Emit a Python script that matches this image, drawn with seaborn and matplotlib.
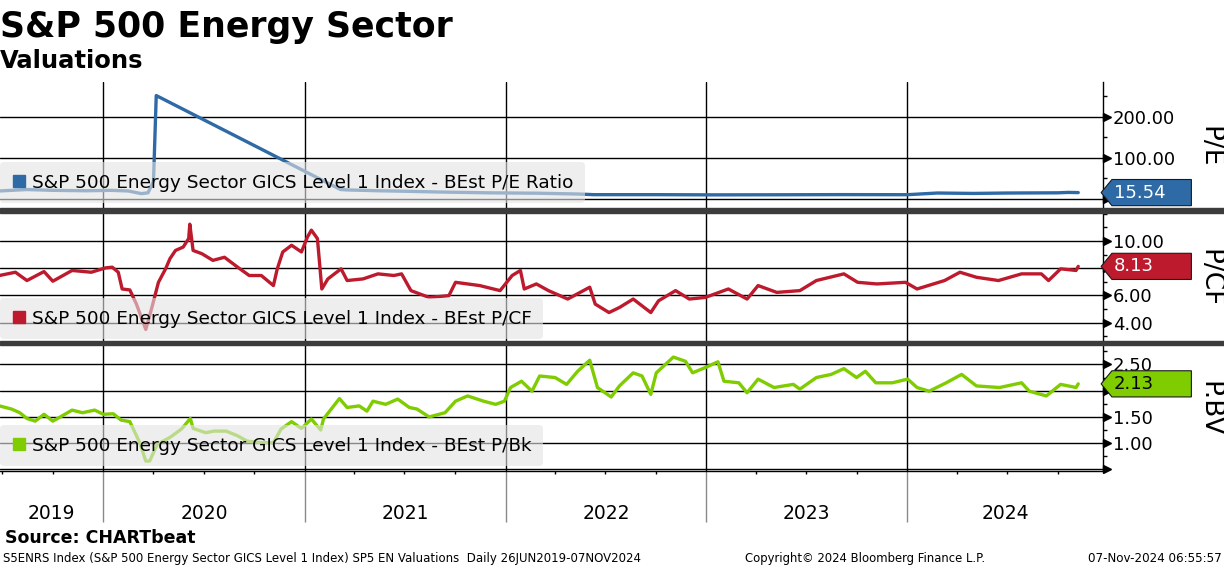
import matplotlib
matplotlib.use('Agg')
import matplotlib.pyplot as plt
import matplotlib.dates as mdates
import matplotlib.transforms as mtransforms
from matplotlib.lines import Line2D
from matplotlib.markers import MarkerStyle
from matplotlib.patches import Rectangle
from matplotlib.path import Path
from matplotlib.ticker import FixedLocator, MultipleLocator, FixedFormatter
import pandas as pd
import seaborn as sns

sns.set_theme(style='white')
plt.rcParams['font.family'] = ['DejaVu Sans']
plt.rcParams['text.color'] = 'black'

# ---- data ----
pe_dates = ['2019-06-26', '2019-08-15', '2019-10-01', '2019-12-01', '2020-01-15', '2020-02-15',
            '2020-03-10', '2020-03-22', '2020-04-01', '2020-04-06', '2021-03-07', '2021-03-20',
            '2021-05-15', '2021-06-25', '2021-09-01', '2021-12-01', '2022-03-01', '2022-05-15',
            '2022-06-10', '2022-10-01', '2023-01-15', '2023-05-01', '2023-09-01', '2024-01-01',
            '2024-02-25', '2024-05-01', '2024-07-01', '2024-10-01', '2024-10-20', '2024-11-07']
pe_values = [19.5, 23.0, 21.0, 20.0, 21.0, 19.5,
             13.0, 15.0, 43.0, 252.0, 23.0, 22.0,
             20.0, 19.0, 17.0, 15.0, 14.0, 12.0,
             10.5, 10.5, 10.0, 10.2, 10.6, 10.4,
             14.5, 13.5, 14.5, 15.0, 16.0, 15.54]

pcf_dates = ['2019-06-26', '2019-07-25', '2019-08-15', '2019-09-15', '2019-10-01', '2019-11-05',
             '2019-12-10', '2020-01-05', '2020-01-17', '2020-01-28', '2020-02-04', '2020-02-18',
             '2020-03-01', '2020-03-18', '2020-03-29', '2020-04-10', '2020-04-23', '2020-05-01',
             '2020-05-11', '2020-05-25', '2020-06-04', '2020-06-06', '2020-06-12', '2020-06-28',
             '2020-07-18', '2020-08-08', '2020-09-01', '2020-09-22', '2020-10-14', '2020-11-05',
             '2020-11-12', '2020-11-22', '2020-12-08', '2020-12-26', '2021-01-06', '2021-01-13',
             '2021-01-24', '2021-02-01', '2021-02-12', '2021-03-08', '2021-03-19', '2021-04-17',
             '2021-05-14', '2021-06-12', '2021-06-26', '2021-07-13', '2021-08-15', '2021-09-20',
             '2021-10-02', '2021-11-15', '2021-12-22', '2022-01-13', '2022-01-28', '2022-02-04',
             '2022-02-26', '2022-03-20', '2022-04-24', '2022-06-03', '2022-06-13', '2022-07-08',
             '2022-07-27', '2022-08-21', '2022-09-22', '2022-10-06', '2022-11-06', '2022-12-01',
             '2022-12-30', '2023-02-10', '2023-03-16', '2023-04-05', '2023-05-09', '2023-06-20',
             '2023-07-20', '2023-09-08', '2023-10-03', '2023-11-07', '2023-12-29', '2024-01-19',
             '2024-03-09', '2024-04-06', '2024-05-06', '2024-06-15', '2024-07-27', '2024-09-01',
             '2024-09-14', '2024-10-06', '2024-11-03', '2024-11-07']
pcf_values = [7.46, 7.70, 7.09, 7.75, 7.04, 7.83,
              7.70, 8.02, 8.07, 7.70, 6.47, 6.40,
              5.36, 3.50, 5.10, 6.96, 7.95, 8.70,
              9.30, 9.55, 10.17, 11.23, 9.30, 9.06,
              8.57, 8.80, 8.07, 7.46, 7.46, 6.72,
              7.95, 9.19, 9.68, 9.19, 10.30, 10.79,
              10.17, 6.47, 7.21, 7.95, 7.09, 7.21,
              7.58, 7.46, 7.58, 6.35, 5.85, 5.98,
              6.96, 6.72, 6.35, 7.46, 7.83, 6.47,
              6.84, 6.35, 5.73, 6.60, 5.36, 4.74,
              5.11, 5.73, 4.74, 5.60, 6.35, 5.73,
              5.85, 6.47, 5.73, 6.72, 6.22, 6.35,
              7.09, 7.58, 6.96, 6.84, 6.96, 6.47,
              7.09, 7.70, 7.33, 7.09, 7.58, 7.58,
              7.09, 7.95, 7.83, 8.13]

pbv_dates = ['2019-06-26', '2019-07-18', '2019-08-02', '2019-08-15', '2019-08-30', '2019-09-15',
             '2019-10-01', '2019-10-18', '2019-11-05', '2019-11-24', '2019-12-16', '2020-01-01',
             '2020-01-19', '2020-02-02', '2020-02-18', '2020-03-07', '2020-03-18', '2020-03-25',
             '2020-04-08', '2020-05-01', '2020-05-22', '2020-06-07', '2020-06-12', '2020-07-05',
             '2020-07-20', '2020-08-11', '2020-09-01', '2020-09-18', '2020-10-14', '2020-11-05',
             '2020-11-19', '2020-12-08', '2020-12-26', '2021-01-13', '2021-01-30', '2021-02-04',
             '2021-03-05', '2021-03-19', '2021-04-10', '2021-04-24', '2021-05-05', '2021-05-28',
             '2021-06-19', '2021-07-10', '2021-07-24', '2021-08-15', '2021-09-13', '2021-10-02',
             '2021-10-24', '2021-11-22', '2021-12-14', '2021-12-30', '2022-01-10', '2022-01-30',
             '2022-02-18', '2022-03-04', '2022-04-01', '2022-04-22', '2022-05-12', '2022-06-03',
             '2022-06-17', '2022-07-12', '2022-07-27', '2022-08-21', '2022-09-06', '2022-09-22',
             '2022-10-02', '2022-11-02', '2022-11-24', '2022-12-07', '2022-12-30', '2023-01-22',
             '2023-02-02', '2023-03-01', '2023-03-16', '2023-04-05', '2023-05-04', '2023-06-08',
             '2023-06-20', '2023-07-20', '2023-08-16', '2023-09-08', '2023-10-01', '2023-10-17',
             '2023-11-05', '2023-12-05', '2024-01-02', '2024-01-19', '2024-02-10', '2024-03-12',
             '2024-04-09', '2024-05-06', '2024-06-17', '2024-07-27', '2024-08-10', '2024-09-10',
             '2024-10-06', '2024-11-03', '2024-11-07']
pbv_values = [1.71, 1.65, 1.58, 1.47, 1.42, 1.55,
              1.42, 1.52, 1.63, 1.58, 1.63, 1.55,
              1.56, 1.44, 1.41, 1.01, 0.66, 0.66,
              0.98, 1.11, 1.27, 1.47, 1.28, 1.20,
              1.23, 1.23, 1.14, 1.04, 1.01, 1.01,
              1.27, 1.41, 1.28, 1.46, 1.25, 1.46,
              1.85, 1.68, 1.71, 1.61, 1.80, 1.74,
              1.84, 1.68, 1.65, 1.50, 1.58, 1.80,
              1.90, 1.80, 1.74, 1.80, 2.06, 2.18,
              1.99, 2.28, 2.25, 2.12, 2.37, 2.58,
              2.06, 1.88, 2.09, 2.34, 2.28, 1.93,
              2.34, 2.64, 2.56, 2.34, 2.44, 2.55,
              2.18, 2.15, 1.96, 2.22, 2.06, 2.12,
              2.03, 2.25, 2.31, 2.42, 2.25, 2.37,
              2.15, 2.15, 2.22, 2.06, 1.99, 2.15,
              2.31, 2.09, 2.06, 2.15, 1.99, 1.90,
              2.12, 2.06, 2.13]

# tick labels hidden behind the last-value tags are left blank
pe_ticks = [0, 100, 200]
pe_tick_labels = ['', '100.00', '200.00']
pcf_ticks = [4, 6, 8, 10]
pcf_tick_labels = ['4.00', '6.00', '', '10.00']
pbv_ticks = [0.5, 1.0, 1.5, 2.0, 2.5]
pbv_tick_labels = ['', '1.00', '1.50', '', '2.50']
year_labels = ['2019', '2020', '2021', '2022', '2023', '2024']

legend_prefix = 'S&P 500 Energy Sector GICS Level 1 Index - BEst '


def tag_box(x0, y0, width, height, mutation_size):
    # Bloomberg style last-value tag: a box with a point on its left side
    h = 1.45 * mutation_size
    yc = y0 + height / 2
    left = x0 - 0.12 * mutation_size
    right = left + 4.4 * mutation_size
    tip = left - 0.6 * mutation_size
    verts = [(tip, yc), (left, yc - h / 2), (right, yc - h / 2),
             (right, yc + h / 2), (left, yc + h / 2), (tip, yc)]
    return Path(verts, closed=True)


W, H = 1224, 566
fig = plt.figure(figsize=(W / 100, H / 100), dpi=100)
fig.patch.set_facecolor('white')


def box(top, bottom):
    return [0, 1 - bottom / H, 1103 / W, (bottom - top) / H]


ax1 = fig.add_axes(box(82, 208))
ax2 = fig.add_axes(box(213, 341))
ax3 = fig.add_axes(box(345, 471))

panels = [
    (ax1, pe_dates, pe_values, '#2e6aa6', 'P/E Ratio', 'P/E', (-22, 285), pe_ticks, pe_tick_labels, 50, 'white', 5),
    (ax2, pcf_dates, pcf_values, '#bd1a2e', 'P/CF', 'P/CF', (2.65, 12.05), pcf_ticks, pcf_tick_labels, 1, 'white', 2),
    (ax3, pbv_dates, pbv_values, '#7fcc00', 'P/Bk', 'P.BV', (0.47, 2.87), pbv_ticks, pbv_tick_labels, 0.25, 'black', 5),
]

xmin, xmax = pd.Timestamp('2019-06-27'), pd.Timestamp('2024-12-22')
arrow = MarkerStyle('>', transform=mtransforms.Affine2D().translate(0.5, 0))

for ax, dates, values, color, leg_name, ylab, ylim, ticks, tlabels, minor, tcolor, leg_off in panels:
    df = pd.DataFrame({'date': pd.to_datetime(dates), 'value': values})
    sns.lineplot(data=df, x='date', y='value', ax=ax, color=color, lw=2.4)
    ax.set_xlim(xmin, xmax)
    ax.set_ylim(*ylim)
    ax.set_xlabel('')
    ax.set_ylabel('')
    ax.set_facecolor('white')

    ax.xaxis.set_major_locator(mdates.YearLocator())
    ax.xaxis.set_minor_locator(mdates.MonthLocator(bymonth=[1, 4, 7, 10]))
    ax.yaxis.set_major_locator(FixedLocator(ticks))
    ax.yaxis.set_major_formatter(FixedFormatter(tlabels))
    ax.yaxis.set_minor_locator(MultipleLocator(minor))
    ax.grid(True, which='major', color='black', lw=1)
    ax.set_axisbelow(True)

    for s in ['top', 'left', 'bottom']:
        ax.spines[s].set_visible(False)
    ax.spines['right'].set_color('black')
    ax.spines['right'].set_linewidth(1)

    ax.tick_params(axis='y', which='major', left=False, right=True, labelleft=False,
                   labelright=True, length=0, pad=7, labelsize=13, labelcolor='black')
    ax.tick_params(axis='y', which='minor', left=False, right=True, length=2.8,
                   width=1, color='black')
    ax.tick_params(axis='x', which='both', bottom=False, top=False, labelbottom=False)

    # arrow shaped major ticks
    trans = mtransforms.blended_transform_factory(ax.transAxes, ax.transData)
    ax.plot([1] * len(ticks), ticks, ls='none', marker=arrow, ms=5.5, color='black',
            transform=trans, clip_on=False, zorder=4)

    # legend
    handle = Line2D([], [], ls='none', marker='s', ms=8.5, color=color)
    leg = ax.legend([handle], [legend_prefix + leg_name], loc='lower left',
                    bbox_to_anchor=(0, leg_off / 126), borderaxespad=0, fontsize=13.3,
                    handlelength=0.8, handletextpad=0.3, borderpad=0.62,
                    frameon=True, fancybox=True, facecolor='#e4e4e4', edgecolor='none',
                    framealpha=0.6)
    for t in leg.get_texts():
        t.set_color('black')

    # last value tag
    ax.annotate(f'{values[-1]:.2f}', xy=(1, values[-1]), xycoords=trans,
                xytext=(8, 0), textcoords='offset points', ha='left', va='center',
                fontsize=13, color=tcolor, annotation_clip=False, zorder=10,
                bbox=dict(boxstyle=tag_box, fc=color, ec='#1a1a1a', lw=0.8))

    ax.text(1.0961, 0.49, ylab, transform=ax.transAxes, rotation=270,
            ha='center', va='center', fontsize=19, color='black')

# bottom axis: year boundaries and quarter ticks
ax3.spines['bottom'].set_visible(True)
ax3.spines['bottom'].set_color('black')
ax3.spines['bottom'].set_linewidth(1)
ax3.tick_params(axis='x', which='major', bottom=True, length=37, width=1, color='#8a8a8a')
ax3.tick_params(axis='x', which='minor', bottom=True, length=2.5, width=1, color='black')

bounds = [xmin] + [pd.Timestamp(f'{y}-01-01') for y in year_labels[1:]] + [xmax]
ytrans = mtransforms.blended_transform_factory(ax3.transData, ax3.transAxes)
for i, yr in enumerate(year_labels):
    mid = bounds[i] + (bounds[i + 1] - bounds[i]) / 2
    ax3.text(mid, -48 / 126, yr, transform=ytrans, ha='center', va='baseline',
             fontsize=13.5, color='black')

# panel separators
for top in [208, 340.5]:
    fig.add_artist(Rectangle((0, 1 - (top + 4.5) / H), 1, 4.5 / H, transform=fig.transFigure,
                             color='#3c3c3c', zorder=5))

# titles and footer
fig.text(0, 1 - 37 / H, 'S&P 500 Energy Sector', fontsize=25, weight='bold', va='baseline')
fig.text(0, 1 - 68 / H, 'Valuations', fontsize=17.5, weight='bold', va='baseline')
fig.text(5 / W, 1 - 543 / H, 'Source: CHARTbeat', fontsize=12.5, weight='bold', va='baseline')
fig.text(3 / W, 1 - 562 / H,
         'S5ENRS Index (S&P 500 Energy Sector GICS Level 1 Index) SP5 EN Valuations  Daily 26JUN2019-07NOV2024',
         fontsize=8.5, va='baseline')
fig.text(745 / W, 1 - 562 / H, 'Copyright\u00a9 2024 Bloomberg Finance L.P.', fontsize=8.4, va='baseline')
fig.text(1222 / W, 1 - 562 / H, '07-Nov-2024 06:55:57', fontsize=8.6, va='baseline', ha='right')

fig.savefig('out.png', dpi=100, facecolor='white')
